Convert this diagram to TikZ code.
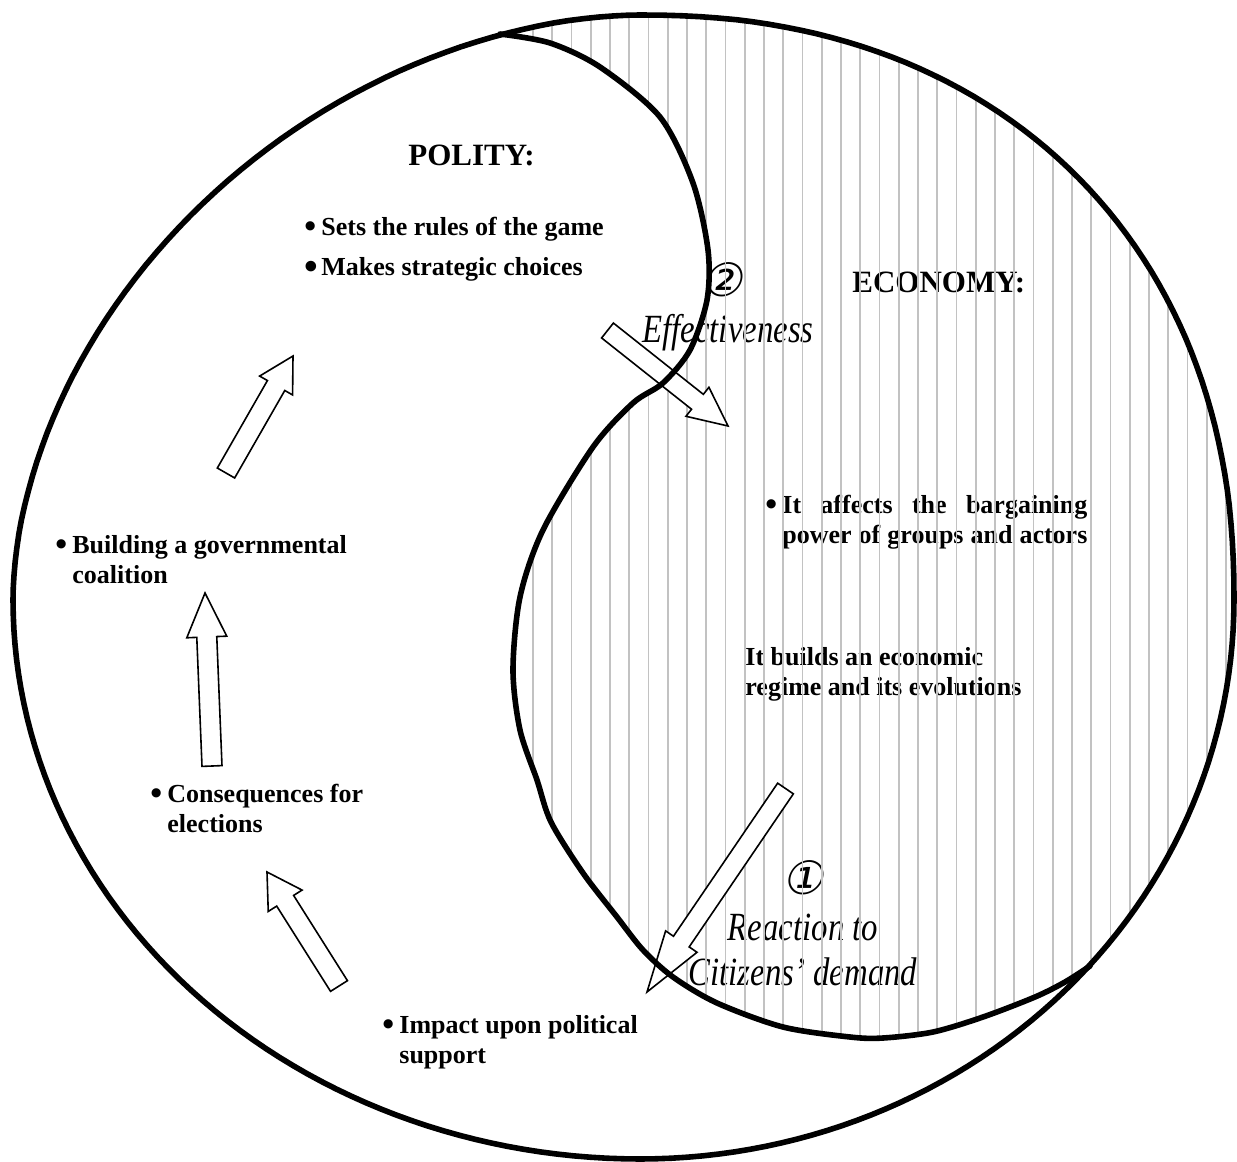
\documentclass[tikz,border=0pt]{standalone}
\usepackage{fontspec}
\setmainfont{Liberation Serif}
\newfontfamily\circfont[FakeSlant=0.2]{DejaVu Sans}
\usetikzlibrary{calc}
\tikzset{
  curve/.style={line width=2.8pt, line join=round, line cap=round},
  hatchline/.style={line width=0.9pt, draw=black!24},
  barrow/.style={draw=black, line width=0.8pt, fill=white, line join=miter},
  btext/.style={font=\bfseries\fontsize{13pt}{15pt}\selectfont, inner sep=0pt, anchor=base west},
  ttext/.style={font=\bfseries\fontsize{15.5pt}{18pt}\selectfont, inner sep=0pt, anchor=base west},
  itext/.style={font=\itshape\fontsize{20pt}{22.5pt}\selectfont, inner sep=0pt},
  circ/.style={font=\circfont\fontsize{23pt}{26pt}\selectfont, inner sep=0pt},
}
\newcommand\bul{\makebox[8.5pt][l]{\raisebox{-1.4pt}{\scalebox{1.3}{•}}}}
\newcommand\bigbul{\makebox[8.5pt][l]{\raisebox{-2pt}{\scalebox{1.5}{•}}}}
\newcommand\bitem[2]{\begin{tabular}[t]{@{}p{8.5pt}@{}l@{}}\bul&#1\\&#2\end{tabular}}
% outer outline: four quarter super-ellipses about (640,600)
\newcommand\outerpath{plot[domain=0:90,samples=60] ({640+594*pow(abs(cos(\x))+0.00001,0.90909)},{600-585*pow(abs(sin(\x))+0.00001,0.90909)})
 -- plot[domain=90:180,samples=60] ({640-627*pow(abs(cos(\x))+0.00001,1.08108)},{600-585*pow(abs(sin(\x))+0.00001,1.08108)})
 -- plot[domain=180:270,samples=60] ({640+627*cos(\x)},{600-559*sin(\x)})
 -- plot[domain=270:360,samples=60] ({640+594*cos(\x)},{600-559*sin(\x)}) -- cycle}
\newcommand\spath{plot[smooth] coordinates {(500,34) (550,43) (600,67) (660,117) (693,183) (708,250) (707,300) (690,350) (663,383) (633,403) (593,447) (543,530) (520,597) (513,670) (520,730) (537,780) (551,822) (583,873) (617,917) (643,950) (673,977) (717,1003) (783,1027) (850,1037) (883,1038) (933,1032) (983,1017) (1035,997) (1065,982) (1090,966)}}
% tail, tip, shaft half width, head half width, head length
\newcommand\blockarrow[5]{%
  \coordinate (ba-b) at ($(#2)!#5!(#1)$);
  \draw[barrow] ($(#1)!#3!90:(#2)$) -- ($(ba-b)!#3!90:(#2)$) -- ($(ba-b)!#4!90:(#2)$)
     -- (#2) -- ($(ba-b)!#4!-90:(#2)$) -- ($(ba-b)!#3!-90:(#2)$) -- ($(#1)!#3!-90:(#2)$) -- cycle;}
\begin{document}
\begin{tikzpicture}[x=0.5pt,y=-0.5pt]
\fill[white] (0,0) rectangle (1237,1162);
\useasboundingbox (0,0) rectangle (1237,1162);

% ---------- texts ----------
\node[ttext] (polity) at (408,165) {POLITY:};
\node[btext] (rules) at (304,235) {\bul Sets the rules of the game};
\node[btext] (choices) at (304,275) {\bigbul Makes strategic choices};
\node[btext] (coalition) at (55,553) {\bitem{Building a governmental}{coalition}};
\node[btext] (elections) at (150,802) {\bitem{Consequences for}{elections}};
\node[btext] (support) at (382,1033) {\bitem{Impact upon political}{support}};
\node[ttext] (economy) at (852,292) {ECONOMY:};
\node[btext] (bargain) at (765,513) {\bitem{\makebox[152.5pt][s]{It affects the bargaining}}{\makebox[152.5pt][s]{power of groups and actors}}};
\node[btext] (regime) at (745,665) {\begin{tabular}[t]{@{}l@{}}It builds an economic\\regime and its evolutions\end{tabular}};
\node[circ] (two) at (722,280) {②};
\node[itext, anchor=base west] (effect) at (642,342) {\scalebox{0.82}[1]{Effectiveness}};
\node[circ] (one) at (803,878) {①};
\node[itext, anchor=base] (reaction) at (803,940) {\scalebox{0.82}[1]{\begin{tabular}[t]{@{}c@{}}Reaction to\\Citizens’ demand\end{tabular}}};

% ---------- hatching of the economy region ----------
\begin{scope}
\clip \outerpath;
\clip \spath -- (1400,966) -- (1400,-50) -- (500,-50) -- cycle;
\foreach \i in {0,...,36} \draw[hatchline] ({533+19.25*\i},-10) -- ({533+19.25*\i},1170);
\end{scope}

% ---------- block arrows ----------
\coordinate (a1t) at (339,986);   \coordinate (a1h) at (267,872);
\coordinate (a2t) at (212,766);   \coordinate (a2h) at (205,593);
\coordinate (a3t) at (226,473);   \coordinate (a3h) at (293,356);
\coordinate (a4t) at (607.5,330.5); \coordinate (a4h) at (728,426);
\coordinate (a5t) at (785.5,788.5); \coordinate (a5h) at (647,992);
\blockarrow{a1t}{a1h}{5pt}{10pt}{17pt}
\blockarrow{a2t}{a2h}{5pt}{10pt}{22pt}
\blockarrow{a3t}{a3h}{5pt}{9.5pt}{17pt}
\blockarrow{a4t}{a4h}{4.75pt}{9.25pt}{19.5pt}
\blockarrow{a5t}{a5h}{4.75pt}{9.5pt}{30.5pt}

% ---------- outline and dividing curve ----------
\draw[curve] \outerpath;
\draw[curve] \spath;
\end{tikzpicture}
\end{document}
